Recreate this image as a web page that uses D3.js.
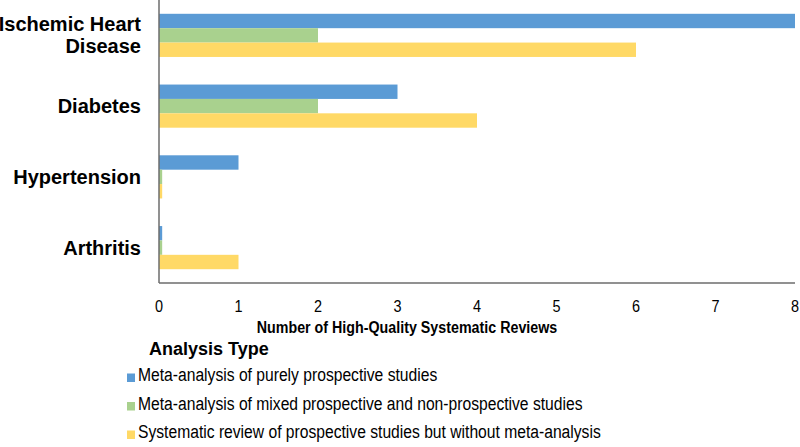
<!DOCTYPE html>
<html>
<head>
<meta charset="utf-8">
<script src="https://cdn.jsdelivr.net/npm/d3@7"></script>
<style>
  body { margin: 0; background: #fff; }
  svg { display: block; }
  text { font-family: 'Liberation Sans', Arial, sans-serif; fill: #000; }
</style>
</head>
<body>
<svg id="chart" width="800" height="447"></svg>
<script>
// data
var categories = ["Ischemic Heart Disease", "Diabetes", "Hypertension", "Arthritis"]
var seriesNames = [
    "Meta-analysis of purely prospective studies",
    "Meta-analysis of mixed prospective and non-prospective studies",
    "Systematic review of prospective studies but without meta-analysis"
]
var purelyProspective = [8, 3, 1, 0.04]
var mixedProspective = [2, 2, 0.04, 0.04]
var systematicReview = [6, 4, 0.04, 1]
var xTicks = [0, 1, 2, 3, 4, 5, 6, 7, 8]
var colors = ["#5b9bd5", "#a9d18e", "#ffd966"]

var series = [purelyProspective, mixedProspective, systematicReview]

var svg = d3.select("#chart")
var x0 = 159, x1 = 795, yTop = 0, yBottom = 283

var x = d3.scaleLinear().domain([0, 8]).range([x0, x1])
var y = d3.scaleBand()
    .domain(categories)
    .range([yTop, yBottom])
    .paddingInner(0.39)
    .paddingOuter(0.195)
var ySub = d3.scaleBand()
    .domain(d3.range(series.length))
    .range([0, y.bandwidth()])

// text squeezed sideways like the original export
function squish(sel, px, py, sx) {
    sel.attr("x", 0).attr("y", 0)
        .attr("transform", "translate(" + px + "," + py + ") scale(" + sx + ",1)")
    return sel
}

// bars
var groups = svg.append("g").selectAll("g.barGroup")
    .data(categories).enter()
    .append("g")
    .attr("class", "barGroup")
    .attr("transform", function (d) { return "translate(0," + y(d) + ")" })

groups.selectAll("rect")
    .data(function (d, i) {
        return series.map(function (s, j) { return {k: j, v: s[i]} })
    }).enter()
    .append("rect")
    .attr("x", x(0))
    .attr("y", function (d) { return ySub(d.k) })
    .attr("height", ySub.bandwidth())
    .attr("width", function (d) { return x(d.v) - x(0) })
    .style("fill", function (d) { return colors[d.k] })

// axes lines
svg.append("line")
    .attr("x1", x0).attr("x2", x0).attr("y1", yTop).attr("y2", yBottom)
    .attr("stroke", "#6d6d6d").attr("stroke-width", 1.5)
svg.append("line")
    .attr("x1", x0).attr("x2", x1).attr("y1", yBottom).attr("y2", yBottom)
    .attr("stroke", "#6d6d6d").attr("stroke-width", 1.5)

// x tick labels
var xAxis = d3.axisBottom(x).tickValues(xTicks).tickSize(0)
var gx = svg.append("g").call(xAxis)
gx.select(".domain").remove()
gx.selectAll(".tick").attr("transform", null)
gx.selectAll(".tick text").each(function (d) {
    squish(d3.select(this), x(d), 312, 0.85)
        .attr("dy", null)
        .attr("text-anchor", "middle")
        .style("font-size", "17px")
        .style("font-family", "'Liberation Sans', Arial, sans-serif")
        .attr("fill", "#000")
})

squish(svg.append("text"), 407, 333, 0.84)
    .attr("text-anchor", "middle")
    .style("font-weight", "bold")
    .style("font-size", "17px")
    .text("Number of High-Quality Systematic Reviews")

// category labels
var labelLines = {
    "Ischemic Heart Disease": ["Ischemic Heart", "Disease"]
}
categories.forEach(function (c) {
    var lines = labelLines[c] || [c]
    var cy = y(c) + y.bandwidth() / 2
    var t = svg.append("text")
        .attr("text-anchor", "end")
        .style("font-weight", "bold")
        .style("font-size", "20px")
    lines.forEach(function (l, i) {
        t.append("tspan")
            .attr("x", 141)
            .attr("y", cy + 7 + (i - (lines.length - 1) / 2) * 22)
            .text(l)
    })
})

// legend
svg.append("text")
    .attr("x", 149).attr("y", 355)
    .style("font-weight", "bold")
    .style("font-size", "18px")
    .text("Analysis Type")

var legend = svg.append("g").selectAll("g")
    .data(seriesNames).enter()
    .append("g")
    .attr("transform", function (d, i) { return "translate(127," + (381 + i * 28.5) + ")" })
legend.append("rect")
    .attr("x", 0).attr("y", -7.5).attr("width", 8).attr("height", 8.5)
    .style("fill", function (d, i) { return colors[i] })
legend.append("text")
    .attr("transform", "translate(11,0) scale(0.87,1)")
    .style("font-size", "18px")
    .text(function (d) { return d })
</script>
</body>
</html>
